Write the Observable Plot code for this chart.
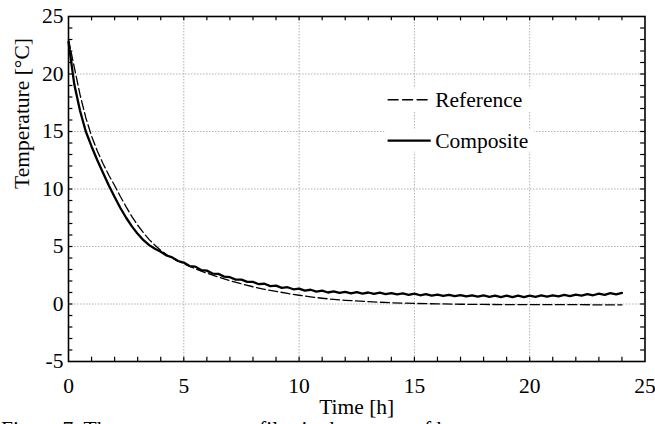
<!DOCTYPE html>
<html>
<head>
<meta charset="utf-8">
<script src="https://cdn.jsdelivr.net/npm/d3@7"></script>
<script src="https://cdn.jsdelivr.net/npm/@observablehq/plot@0.6"></script>
<style>
  html, body { margin: 0; padding: 0; background: #fff; overflow: hidden; }
  #wrap { position: relative; width: 655px; height: 424px; }
  #chart svg, #chart svg text { font-family: "Liberation Serif", "Times New Roman", serif !important; }
  #caption { position: absolute; left: 1px; top: 421px; font-family: "Liberation Serif", "Times New Roman", serif; font-size: 21.5px; line-height: 16px; white-space: nowrap; color: #000; }
</style>
</head>
<body>
<div id="wrap">
  <div id="chart"></div>
  <div id="caption">Figure 7. The temperature profiles in the center of h</div>
</div>
<script>
// ---- data ----
const compTime = [0,0.25,0.5,0.75,1,1.25,1.5,1.75,2,2.25,2.5,2.75,3,3.25,3.5,3.75,4,4.25,4.5,4.75,5,
  5.25,5.5,5.75,6,6.25,6.5,6.75,7,7.25,7.5,7.75,8,8.25,8.5,8.75,9,9.25,9.5,9.75,10,
  10.25,10.5,10.75,11,11.25,11.5,11.75,12,12.25,12.5,12.75,13,13.25,13.5,13.75,14,
  14.25,14.5,14.75,15,15.25,15.5,15.75,16,16.25,16.5,16.75,17,17.25,17.5,17.75,18,
  18.25,18.5,18.75,19,19.25,19.5,19.75,20,20.25,20.5,20.75,21,21.25,21.5,21.75,22,
  22.25,22.5,22.75,23,23.25,23.5,23.75,24];
const compTemp = [22.8,19.1,16.8,15.0,13.7,12.5,11.4,10.3,9.3,8.35,7.5,6.75,6.1,5.55,5.12,4.8,4.55,4.22,4.05,3.74,3.6,
  3.3,3.25,2.95,2.9,2.65,2.62,2.38,2.33,2.12,2.12,1.92,1.92,1.72,1.76,1.56,1.6,1.4,1.46,1.28,1.34,
  1.16,1.24,1.08,1.16,1.0,1.1,0.96,1.06,0.92,1.03,0.9,1.0,0.88,0.98,0.86,0.95,
  0.83,0.93,0.8,0.9,0.76,0.86,0.72,0.82,0.7,0.8,0.68,0.78,0.66,0.76,0.64,0.74,
  0.62,0.73,0.6,0.72,0.6,0.72,0.6,0.72,0.62,0.74,0.64,0.76,0.66,0.79,0.68,0.82,
  0.72,0.86,0.76,0.9,0.8,0.94,0.84,0.96];
const refTime = [0,0.25,0.5,0.75,1,1.25,1.5,1.75,2,2.25,2.5,2.75,3,3.25,3.5,3.75,4,4.25,4.5,4.75,5,
  5.5,6,6.5,7,7.5,8,8.5,9,9.5,10,10.5,11,11.5,12,13,14,15,16,17,18,19,20,21,22,23,24];
const refTemp = [23.0,20.6,18.2,16.2,14.6,13.3,12.2,11.2,10.3,9.35,8.45,7.6,6.85,6.2,5.6,5.1,4.65,4.3,4.0,3.74,3.5,
  3.06,2.68,2.35,2.03,1.75,1.5,1.28,1.1,0.92,0.76,0.62,0.5,0.4,0.32,0.2,0.11,0.05,0.01,-0.02,-0.04,-0.05,-0.05,-0.06,-0.06,-0.07,-0.08];

const seriesNames = ["Reference", "Composite"];
const xMajor = [0, 5, 10, 15, 20, 25];
const yMajor = [-5, 0, 5, 10, 15, 20, 25];
const xMinor = d3.range(1, 25);
const yMinor = d3.range(-4, 25);
const xTitle = "Time [h]";
const yTitle = "Temperature [°C]";

const comp = compTime.map((t, i) => ({t, v: compTemp[i]}));
const ref = refTime.map((t, i) => ({t, v: refTemp[i]}));

const font = "Liberation Serif";
const fs = 21.5;
const legendY = [17.76, 14.2];

const chart = Plot.plot({
  width: 655,
  height: 424,
  marginTop: 16,
  marginLeft: 68,
  marginRight: 10.5,
  marginBottom: 63,
  x: {domain: [0, 25]},
  y: {domain: [-5, 25]},
  style: {fontFamily: font, fontSize: fs + "px", background: "white", color: "black"},
  marks: [
    Plot.gridX(xMajor.slice(1, -1), {stroke: "#b0b0b0", strokeOpacity: 1, strokeDasharray: "1.5,1.5"}),
    Plot.gridY(yMajor.slice(1, -1), {stroke: "#b0b0b0", strokeOpacity: 1, strokeDasharray: "1.5,1.5"}),
    // legend backing
    Plot.rect(seriesNames, {x1: 13.72, x2: 20.2, y1: (d, i) => legendY[i] - 1.0, y2: (d, i) => legendY[i] + 0.95, fill: "white"}),
    // minor ticks (inside)
    Plot.ruleX(xMinor, {x: d => d, y1: -5, y2: -4.62, stroke: "black", strokeWidth: 1.2}),
    Plot.ruleX(xMinor, {x: d => d, y1: 25, y2: 24.62, stroke: "black", strokeWidth: 1.2}),
    Plot.ruleY(yMinor, {y: d => d, x1: 0, x2: 0.19, stroke: "black", strokeWidth: 1.2}),
    Plot.ruleY(yMinor, {y: d => d, x1: 25, x2: 24.81, stroke: "black", strokeWidth: 1.2}),
    // series
    Plot.line(ref, {x: "t", y: "v", stroke: "black", strokeWidth: 1.3, strokeDasharray: "9,3.5"}),
    Plot.line(comp, {x: "t", y: "v", stroke: "black", strokeWidth: 2.3}),
    // legend
    Plot.ruleY([seriesNames[0]], {y: () => legendY[0], x1: 13.86, x2: 15.73, stroke: "black", strokeWidth: 1.3, strokeDasharray: "11,3.5"}),
    Plot.ruleY([seriesNames[1]], {y: () => legendY[1], x1: 13.86, x2: 15.73, stroke: "black", strokeWidth: 2.3}),
    Plot.text(seriesNames, {x: 15.9, y: (d, i) => legendY[i], text: d => d, textAnchor: "start", lineAnchor: "middle", fill: "black", fontSize: fs, fontFamily: font}),
    Plot.frame({stroke: "black", strokeWidth: 1.6}),
    Plot.axisX(xMajor, {tickSize: 0, tickPadding: 16, label: null, fontSize: fs, fontFamily: font, tickFormat: d => String(d)}),
    Plot.axisY(yMajor, {tickSize: 0, tickPadding: 5, label: null, fontSize: fs, fontFamily: font, tickFormat: d => String(d)}),
    Plot.text([xTitle], {frameAnchor: "bottom", dy: 46, lineAnchor: "middle", text: d => d, fill: "black", fontSize: fs, fontFamily: font}),
    Plot.text([yTitle], {frameAnchor: "left", dx: -46, rotate: -90, lineAnchor: "middle", text: d => d, fill: "black", fontSize: fs, fontFamily: font})
  ]
});
document.getElementById("chart").appendChild(chart);
</script>
</body>
</html>
